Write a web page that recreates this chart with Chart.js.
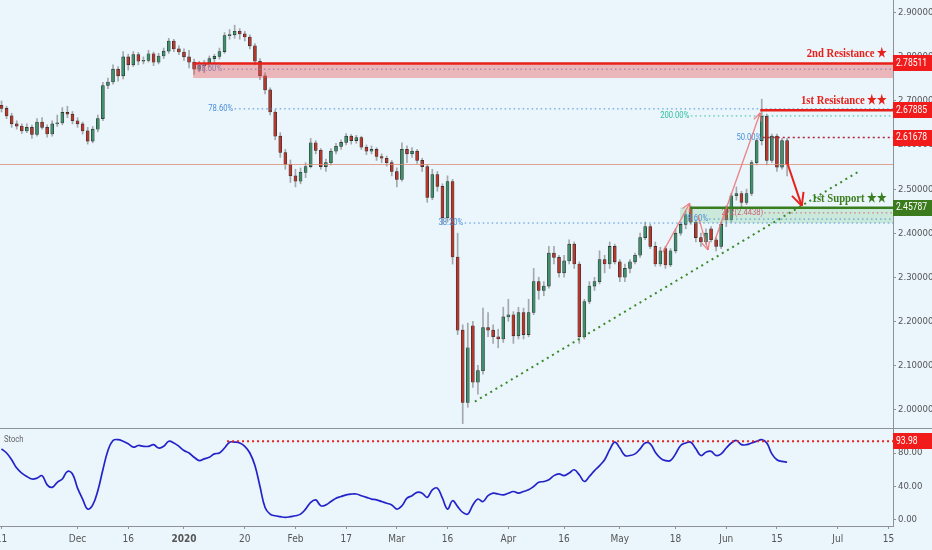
<!DOCTYPE html>
<html lang="en">
<head>
    <meta charset="UTF-8">
    <title>Copper - Daily</title>
    <script src="https://cdn.jsdelivr.net/npm/chart.js@4.4.0/dist/chart.umd.min.js"></script>
    <style>
        body { margin: 0; background: #eaf5fc; }
        .pane { position: absolute; left: 0; width: 932px; }
        #top { top: 0; height: 429px; }
        #bottom { top: 429px; height: 121px; }
    </style>
</head>
<body>
    <div class="pane" id="top"><canvas id="priceChart" width="932" height="429"></canvas></div>
    <div class="pane" id="bottom"><canvas id="stochChart" width="932" height="121"></canvas></div>

    <script>
        // daily bars, index 0 = 11 Nov 2019 (trading days only)
        const open = [
            2.690,2.683,2.666,2.648,2.643,2.632,2.640,2.624,2.652,2.640,
            2.625,2.648,2.650,2.674,2.670,2.655,2.648,2.632,2.609,2.636,
            2.660,2.735,2.743,2.772,2.757,2.800,2.782,2.805,2.790,2.792,
            2.807,2.788,2.802,2.813,2.836,2.818,2.811,2.800,2.788,2.772,
            2.780,2.786,2.796,2.801,2.812,2.848,2.850,2.858,2.852,2.845,
            2.825,2.790,2.757,2.725,2.675,2.620,2.583,2.556,2.530,2.518,
            2.538,2.551,2.605,2.588,2.551,2.560,2.586,2.597,2.606,2.620,
            2.610,2.617,2.595,2.586,2.590,2.574,2.570,2.560,2.540,2.522,
            2.590,2.580,2.586,2.565,2.551,2.481,2.533,2.506,2.435,2.517,
            2.346,2.180,2.016,2.190,2.062,2.088,2.186,2.180,2.165,2.160,
            2.210,2.215,2.167,2.220,2.170,2.220,2.290,2.270,2.280,2.355,
            2.345,2.310,2.337,2.375,2.330,2.165,2.245,2.280,2.290,2.340,
            2.330,2.370,2.335,2.300,2.320,2.335,2.350,2.390,2.415,2.370,
            2.330,2.365,2.328,2.360,2.400,2.420,2.455,2.425,2.390,2.380,
            2.410,2.385,2.370,2.458,2.430,2.485,2.490,2.470,2.490,2.560,
            2.610,2.665,2.565,2.620,2.550,2.610
        ];
        const high = [
            2.700,2.688,2.672,2.655,2.648,2.648,2.645,2.660,2.662,2.646,
            2.655,2.668,2.685,2.688,2.676,2.662,2.652,2.640,2.642,2.668,
            2.742,2.752,2.782,2.778,2.812,2.806,2.812,2.810,2.800,2.815,
            2.811,2.808,2.820,2.842,2.840,2.825,2.818,2.815,2.795,2.790,
            2.792,2.802,2.806,2.820,2.855,2.862,2.872,2.864,2.858,2.850,
            2.830,2.796,2.764,2.730,2.680,2.628,2.590,2.566,2.545,2.548,
            2.560,2.615,2.610,2.592,2.568,2.592,2.604,2.612,2.626,2.624,
            2.622,2.620,2.600,2.598,2.594,2.580,2.575,2.565,2.548,2.605,
            2.598,2.594,2.590,2.570,2.556,2.545,2.540,2.512,2.530,2.522,
            2.400,2.192,2.196,2.200,2.100,2.230,2.220,2.192,2.182,2.232,
            2.250,2.222,2.232,2.230,2.250,2.320,2.300,2.290,2.370,2.370,
            2.350,2.350,2.385,2.380,2.335,2.250,2.290,2.300,2.360,2.350,
            2.380,2.375,2.340,2.330,2.340,2.355,2.400,2.425,2.420,2.380,
            2.368,2.370,2.365,2.410,2.425,2.450,2.462,2.430,2.400,2.410,
            2.415,2.390,2.425,2.462,2.490,2.505,2.495,2.500,2.565,2.615,
            2.704,2.670,2.625,2.625,2.615,2.615
        ];
        const low = [
            2.675,2.660,2.640,2.636,2.626,2.628,2.615,2.620,2.636,2.618,
            2.620,2.642,2.646,2.662,2.648,2.640,2.625,2.602,2.605,2.630,
            2.655,2.728,2.738,2.745,2.750,2.770,2.778,2.782,2.784,2.788,
            2.780,2.784,2.796,2.808,2.812,2.805,2.792,2.775,2.760,2.766,
            2.764,2.778,2.785,2.795,2.808,2.840,2.842,2.840,2.836,2.818,
            2.782,2.748,2.716,2.668,2.612,2.572,2.545,2.515,2.505,2.512,
            2.526,2.548,2.580,2.545,2.540,2.555,2.580,2.590,2.600,2.602,
            2.604,2.590,2.578,2.580,2.565,2.560,2.552,2.530,2.505,2.518,
            2.560,2.572,2.558,2.540,2.470,2.476,2.495,2.420,2.425,2.330,
            2.170,1.968,2.005,2.050,2.035,2.080,2.165,2.150,2.140,2.152,
            2.200,2.150,2.160,2.160,2.165,2.215,2.250,2.258,2.275,2.330,
            2.300,2.300,2.330,2.320,2.150,2.160,2.240,2.270,2.285,2.310,
            2.320,2.330,2.290,2.290,2.310,2.330,2.345,2.385,2.365,2.325,
            2.325,2.320,2.324,2.355,2.395,2.410,2.420,2.380,2.370,2.375,
            2.380,2.360,2.365,2.415,2.425,2.475,2.460,2.465,2.485,2.555,
            2.600,2.555,2.560,2.540,2.545,2.530
        ];
        const close = [
            2.683,2.666,2.648,2.643,2.632,2.640,2.624,2.652,2.640,2.625,
            2.648,2.650,2.674,2.670,2.655,2.648,2.632,2.609,2.636,2.660,
            2.735,2.743,2.772,2.757,2.800,2.782,2.805,2.790,2.792,2.807,
            2.788,2.802,2.813,2.836,2.818,2.811,2.800,2.788,2.772,2.780,
            2.786,2.796,2.801,2.812,2.848,2.850,2.858,2.852,2.845,2.825,
            2.790,2.757,2.725,2.675,2.620,2.583,2.556,2.530,2.518,2.538,
            2.551,2.605,2.588,2.551,2.560,2.586,2.597,2.606,2.620,2.610,
            2.617,2.595,2.586,2.590,2.574,2.570,2.560,2.540,2.522,2.590,
            2.580,2.586,2.565,2.551,2.481,2.533,2.506,2.435,2.517,2.346,
            2.180,2.016,2.140,2.062,2.088,2.186,2.180,2.165,2.160,2.210,
            2.215,2.167,2.220,2.170,2.220,2.290,2.270,2.280,2.355,2.345,
            2.310,2.337,2.375,2.330,2.165,2.245,2.280,2.290,2.340,2.330,
            2.370,2.335,2.300,2.320,2.335,2.350,2.390,2.415,2.370,2.330,
            2.360,2.328,2.360,2.400,2.420,2.440,2.425,2.390,2.380,2.400,
            2.385,2.370,2.420,2.430,2.485,2.490,2.470,2.490,2.560,2.610,
            2.665,2.565,2.620,2.550,2.610,2.557
        ];
        const stoch = [
            85,80,72,62,56,52,49,50,53,42,
            39,45,49,58,55,38,25,13,18,35,
            60,83,95,96,94,91,87,89,88,88,
            90,86,88,94,92,88,83,80,75,71,
            73,75,79,80,86,93,93,92,88,80,
            65,40,15,7,5,4,3,4,5,7,
            13,21,24,17,18,22,26,28,30,31,
            31,29,27,25,24,22,20,18,13,17,
            26,29,33,32,27,36,38,26,13,23,
            16,9,7,18,25,22,29,32,31,30,
            32,34,32,34,36,40,45,46,48,53,
            55,53,56,60,54,46,52,59,65,72,
            84,93,86,77,77,79,85,92,91,81,
            74,71,71,79,89,92,93,85,77,81,
            82,77,79,86,92,95,90,90,92,94,
            96,92,79,72,70,69
        ];

        // time axis: bar index of each label
        const xTickIdx = [0, 15, 25, 36, 48, 58, 68, 78, 88, 100, 111, 122, 133, 143, 153, 165, 175];
        const xTickLbl = ['11', 'Dec', '16', '2020', '20', 'Feb', '17', 'Mar', '16', 'Apr', '16', 'May', '18', 'Jun', '15', 'Jul', '15'];
        const priceTicks = [2.0, 2.1, 2.2, 2.3, 2.4, 2.5, 2.6, 2.7, 2.8, 2.9];
        const stochTicks = [0, 40, 80];

        // key levels
        const resistance2 = 2.78511;
        const resistance1 = 2.67885;
        const midLevel = 2.61678;
        const support1 = 2.45787;
        const stochHigh = 93.98;

        const X_MIN = -0.3, X_MAX = 175.9;
        const AXIS_W = 39;
        const NARROW = '"DejaVu Sans Condensed", "Liberation Sans Narrow", Roboto, sans-serif';
        const AXIS_COL = '#8d9296';
        const TEXT_COL = '#555';

        function sqText(ctx, text, x, y, font, color, align, sx) {
            ctx.save();
            ctx.font = font;
            ctx.fillStyle = color;
            ctx.textAlign = align;
            ctx.textBaseline = 'middle';
            ctx.translate(x, y);
            ctx.scale(sx, 1);
            ctx.fillText(text, 0, 0);
            ctx.restore();
        }

        function segment(ctx, x0, y0, x1, y1, color, width, dash) {
            ctx.save();
            ctx.strokeStyle = color;
            ctx.lineWidth = width;
            ctx.setLineDash(dash || []);
            ctx.beginPath();
            ctx.moveTo(x0, y0);
            ctx.lineTo(x1, y1);
            ctx.stroke();
            ctx.restore();
        }

        function arrow(ctx, x0, y0, x1, y1, color, width, head) {
            segment(ctx, x0, y0, x1, y1, color, width);
            const ang = Math.atan2(y1 - y0, x1 - x0);
            [-0.45, 0.45].forEach(d => {
                segment(ctx, x1, y1, x1 - head * Math.cos(ang + d), y1 - head * Math.sin(ang + d), color, width);
            });
        }

        function axisBox(chart, value, text, bg) {
            const ctx = chart.ctx;
            const y = chart.scales.y.getPixelForValue(value);
            const x0 = chart.chartArea.right;
            ctx.save();
            ctx.fillStyle = bg;
            ctx.fillRect(x0, Math.round(y) - 8, chart.width - x0, 16);
            ctx.restore();
            sqText(ctx, text, x0 + 3, y, '11px Roboto, sans-serif', '#fff', 'left', 0.78);
        }

        // keep the plot area flush with the canvas edges, like the original
        function noPad(s) {
            s.paddingTop = 0;
            s.paddingBottom = 0;
            s.paddingLeft = 0;
            s.paddingRight = 0;
        }

        const priceOverlay = {
            id: 'priceOverlay',
            afterDatasetsDraw(chart) {
                const { ctx, chartArea: a, scales: { x, y } } = chart;
                const X = v => x.getPixelForValue(v);
                const Y = v => y.getPixelForValue(v);
                const R = a.right;

                ctx.save();
                ctx.beginPath();
                ctx.rect(a.left, a.top, a.width, a.height);
                ctx.clip();

                // last price line
                const lastY = Math.round(Y(close[close.length - 1])) + 0.5;
                segment(ctx, a.left, lastY, R, lastY, 'rgba(222,140,120,0.8)', 1);

                // 2nd resistance zone
                ctx.fillStyle = 'rgba(236,80,80,0.38)';
                ctx.fillRect(X(37.8), Y(resistance2), R - X(37.8), Y(2.752) - Y(resistance2));
                segment(ctx, X(37.8), Y(resistance2), R, Y(resistance2), '#e8201a', 2.5);
                segment(ctx, X(43.8), Y(2.772), R, Y(2.772), '#8a7ba6', 1, [1.5, 3]);
                sqText(ctx, '88.60%', X(43.5), Y(2.772), '9px Roboto, sans-serif', '#8a7ba6', 'right', 0.85);

                // 78.6 / 200 / 50 fib levels
                segment(ctx, X(46), Y(2.682), R, Y(2.682), '#4a90d9', 1, [1.5, 3]);
                sqText(ctx, '78.60%', X(45.7), Y(2.682), '9px Roboto, sans-serif', '#4a90d9', 'right', 0.85);
                segment(ctx, X(136), Y(2.666), R, Y(2.666), '#2fbf9f', 1, [1.5, 3]);
                sqText(ctx, '200.00%', X(135.7), Y(2.666), '9px Roboto, sans-serif', '#2fbf9f', 'right', 0.85);
                segment(ctx, X(149.7), Y(resistance1), R, Y(resistance1), '#e8201a', 2.5);
                segment(ctx, X(150.2), Y(midLevel), R, Y(midLevel), '#b0203a', 1.5, [2, 3]);
                sqText(ctx, '50.00%', X(149.9), Y(midLevel), '9px Roboto, sans-serif', '#4a90d9', 'right', 0.85);

                // support zone
                ctx.fillStyle = 'rgba(120,200,130,0.28)';
                ctx.fillRect(X(133.9), Y(support1), R - X(133.9), Y(2.423) - Y(support1));
                segment(ctx, X(91.4), Y(2.423), R, Y(2.423), '#4a90d9', 1, [1.5, 3]);
                sqText(ctx, '38.20%', X(91.1), Y(2.423), '9px Roboto, sans-serif', '#4a90d9', 'right', 0.85);
                segment(ctx, X(139.6), Y(2.432), R, Y(2.432), '#4a90d9', 1, [1.5, 3]);
                sqText(ctx, '78.60%', X(139.4), Y(2.432), '9px Roboto, sans-serif', '#4a90d9', 'right', 0.85);
                segment(ctx, X(150.5), Y(2.446), R, Y(2.446), '#d0607a', 1, [1.5, 3]);
                sqText(ctx, '272(2.4438)', X(150.3), Y(2.446), '9px Roboto, sans-serif', '#d0607a', 'right', 0.85);
                segment(ctx, X(135.8), Y(support1), R, Y(support1), '#3a7d1e', 2.5);

                // rising trend line
                segment(ctx, X(93.4), Y(2.018), X(169.0), Y(2.539), '#3a8a28', 2, [2, 4]);

                // swing arrows
                const pink = 'rgba(236,110,110,0.85)';
                arrow(ctx, X(130.5), Y(2.357), X(135.8), Y(2.468), pink, 1.3, 9);
                arrow(ctx, X(137.4), Y(2.441), X(139.4), Y(2.362), pink, 1.3, 9);
                arrow(ctx, X(140.8), Y(2.385), X(149.7), Y(2.673), pink, 1.3, 9);
                arrow(ctx, X(155.0), Y(2.561), X(157.9), Y(2.462), '#e8201a', 2, 14);

                ctx.restore();

                // level captions
                const serif = 'bold 13px "Liberation Serif", "DejaVu Serif", serif';
                sqText(ctx, '2nd Resistance \u2605', R - 6, Y(resistance2) - 10, serif, '#e8201a', 'right', 0.82);
                sqText(ctx, '1st Resistance \u2605\u2605', R - 6, Y(resistance1) - 10, serif, '#e8201a', 'right', 0.82);
                sqText(ctx, '1st Support \u2605\u2605', R - 6, Y(support1) - 9, serif, '#3a7d1e', 'right', 0.82);
            },
            afterDraw(chart) {
                const ctx = chart.ctx;
                axisBox(chart, resistance2, resistance2.toFixed(5), '#f21b1b');
                axisBox(chart, resistance1, resistance1.toFixed(5), '#f21b1b');
                axisBox(chart, midLevel, midLevel.toFixed(5), '#f21b1b');
                axisBox(chart, support1, support1.toFixed(5), '#3c7a1e');
                segment(ctx, 0, chart.chartArea.bottom + 0.5, chart.width, chart.chartArea.bottom + 0.5, AXIS_COL, 1);
            }
        };

        const stochOverlay = {
            id: 'stochOverlay',
            afterDatasetsDraw(chart) {
                const { ctx, chartArea: a, scales: { x, y } } = chart;
                segment(ctx, x.getPixelForValue(44.5), y.getPixelForValue(stochHigh), a.right, y.getPixelForValue(stochHigh), '#e8201a', 2, [2, 3]);
                sqText(ctx, 'Stoch', 4, a.top + 11, '9px Roboto, sans-serif', '#666', 'left', 0.85);
            },
            afterDraw(chart) {
                axisBox(chart, stochHigh, stochHigh.toFixed(2), '#f21b1b');
            }
        };

        const upDown = close.map((c, i) => c >= open[i]);
        const wicks = close.map((c, i) => ({ x: i, y: [low[i], high[i]] }));
        const bodies = close.map((c, i) => ({ x: i, y: [open[i], c] }));

        new Chart(document.getElementById('priceChart'), {
            type: 'bar',
            data: {
                datasets: [{
                    data: wicks,
                    backgroundColor: '#a4a8ab',
                    barThickness: 1,
                    grouped: false,
                    order: 2
                }, {
                    data: bodies,
                    backgroundColor: upDown.map(u => u ? '#3f8f6c' : '#b5382c'),
                    borderColor: '#2a2a2a',
                    borderWidth: 0.6,
                    borderSkipped: false,
                    barThickness: 3,
                    minBarLength: 1,
                    grouped: false,
                    order: 1
                }]
            },
            options: {
                responsive: false,
                animation: false,
                layout: { padding: { left: 0, right: 0, top: 0, bottom: 1 } },
                plugins: { legend: { display: false }, tooltip: { enabled: false } },
                scales: {
                    x: { type: 'linear', min: X_MIN, max: X_MAX, offset: false, display: false },
                    y: {
                        type: 'linear',
                        position: 'right',
                        min: 1.958,
                        max: 2.929,
                        afterFit(s) { s.width = AXIS_W; noPad(s); },
                        afterBuildTicks(s) { s.ticks = priceTicks.map(v => ({ value: v })); },
                        ticks: {
                            callback: v => v.toFixed(5),
                            color: TEXT_COL,
                            font: { size: 9.5, family: NARROW },
                            padding: 2
                        },
                        grid: { drawOnChartArea: false, color: AXIS_COL, tickLength: 3 },
                        border: { color: AXIS_COL }
                    }
                }
            },
            plugins: [priceOverlay]
        });

        new Chart(document.getElementById('stochChart'), {
            type: 'line',
            data: {
                datasets: [{
                    data: stoch.map((v, i) => ({ x: i, y: v })),
                    borderColor: '#2323c8',
                    borderWidth: 1.7,
                    pointRadius: 0,
                    tension: 0.4,
                    fill: false
                }]
            },
            options: {
                responsive: false,
                animation: false,
                layout: { padding: 0 },
                plugins: { legend: { display: false }, tooltip: { enabled: false } },
                scales: {
                    x: {
                        type: 'linear',
                        min: X_MIN,
                        max: X_MAX,
                        afterFit(s) { s.height = 24; noPad(s); },
                        afterBuildTicks(s) { s.ticks = xTickIdx.map(v => ({ value: v })); },
                        ticks: {
                            autoSkip: false,
                            maxRotation: 0,
                            callback: v => xTickLbl[xTickIdx.indexOf(v)],
                            color: TEXT_COL,
                            font: c => ({ size: 10, family: NARROW, weight: (c.tick && c.tick.value === 36) ? 'bold' : 'normal' }),
                            padding: 4
                        },
                        grid: { drawOnChartArea: false, color: AXIS_COL, tickLength: 3 },
                        border: { color: AXIS_COL }
                    },
                    y: {
                        type: 'linear',
                        position: 'right',
                        min: -7.2,
                        max: 108.7,
                        afterFit(s) { s.width = AXIS_W; noPad(s); },
                        afterBuildTicks(s) { s.ticks = stochTicks.map(v => ({ value: v })); },
                        ticks: {
                            callback: v => v.toFixed(2),
                            color: TEXT_COL,
                            font: { size: 9.5, family: NARROW },
                            padding: 2
                        },
                        grid: { drawOnChartArea: false, color: AXIS_COL, tickLength: 3 },
                        border: { color: AXIS_COL }
                    }
                }
            },
            plugins: [stochOverlay]
        });
    </script>
</body>
</html>
